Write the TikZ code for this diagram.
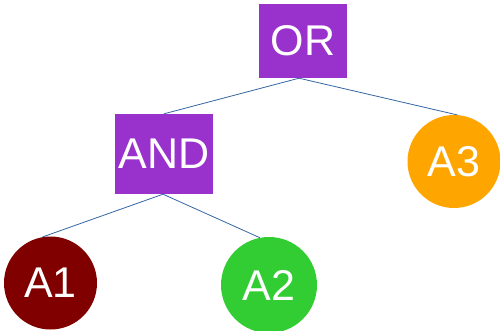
\documentclass[tikz,border=0pt]{standalone}
\usepackage{fontspec}
\setmainfont{Liberation Sans}
\definecolor{gatepurple}{RGB}{153,50,204}
\definecolor{leaforange}{RGB}{255,165,0}
\definecolor{leafred}{RGB}{128,0,0}
\definecolor{leafgreen}{RGB}{50,205,50}
\definecolor{edgeblue}{RGB}{52,101,164}
\begin{document}
\begin{tikzpicture}[x=1pt,y=-1pt,
  gate/.style={rectangle,fill=gatepurple,text=white,inner sep=0pt,font=\fontsize{43}{43}\selectfont},
  leaf/.style={circle,text=white,inner sep=0pt,font=\fontsize{43}{43}\selectfont},
  edge/.style={draw=edgeblue,line width=0.8pt}]
\useasboundingbox (0,0) rectangle (500,331);
\node[gate,minimum width=88pt,minimum height=74pt] (or) at (303,41) {OR};
\node[gate,minimum width=98pt,minimum height=80pt] (and) at (164,154) {AND};
\node[leaf,fill=leaforange,minimum size=93pt] (a3) at (454,161.5) {A3};
\node[leaf,fill=leafred,minimum size=93pt] (a1) at (50.5,283) {A1};
\node[leaf,fill=leafgreen,minimum size=96pt] (a2) at (269,285) {A2};
\draw[edge] ([xshift=-4pt]or.south) -- (and.north);
\draw[edge] ([xshift=-4pt]or.south) -- (a3.86);
\draw[edge] ([xshift=-1pt]and.south) -- (a1.100);
\draw[edge] ([xshift=-1pt]and.south) -- (a2.101);
\end{tikzpicture}
\end{document}
